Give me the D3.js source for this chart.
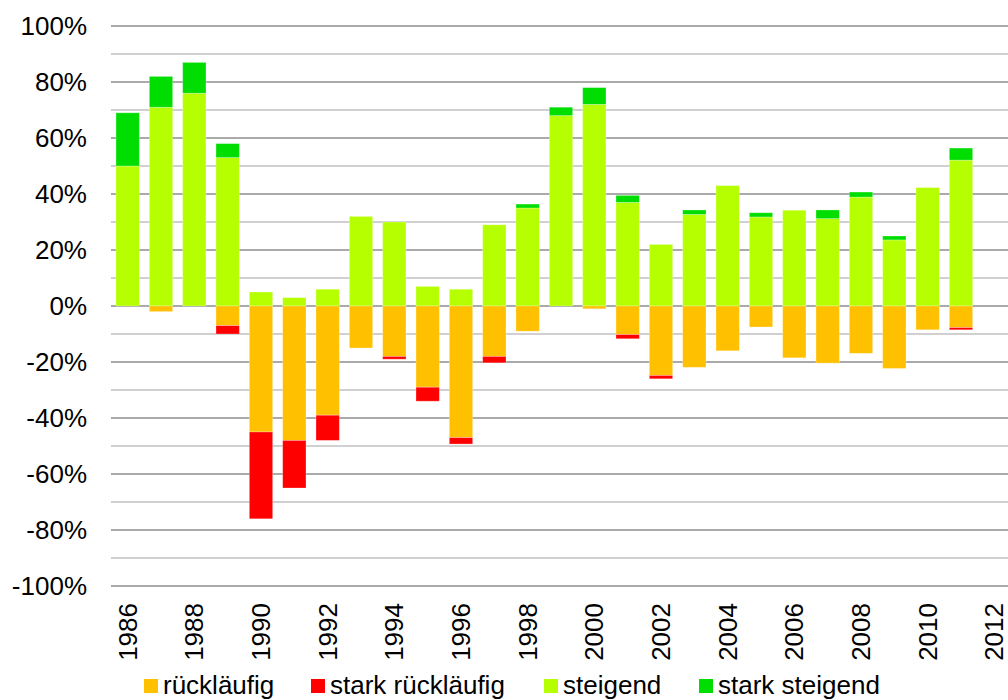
<!DOCTYPE html>
<html><head><meta charset="utf-8">
<script src="https://cdn.jsdelivr.net/npm/d3@7"></script>
<style>body{margin:0;background:#fff}svg{display:block;font-family:"Liberation Sans",Arial,sans-serif}</style>
</head><body><svg id="c" width="1008" height="700"></svg>
<script>
const categories = d3.range(1986, 2013).map(String);
const dataYears = d3.range(1986, 2012).map(String);
const steigend = [50,71,76,53,5,3,6,32,30,7,6,29,35,68,72,37,22,32.7,43,31.8,34.2,31.2,38.9,23.6,42.3,52.1];
const starkSteigend = [19,11,11,5,0,0,0,0,0,0,0,0,1.4,3,6,2.5,0,1.6,0,1.5,0,3.1,1.8,1.4,0,4.3];
const ruecklaeufig = [0,-2,0,-7,-45,-48,-39,-15,-18,-29,-47,-18,-9,0,-1,-10.2,-24.8,-21.9,-16,-7.5,-18.5,-20.4,-16.9,-22.3,-8.5,-7.7];
const starkRuecklaeufig = [0,0,0,-3,-31,-17,-9,0,-1,-5,-2.3,-2.3,0,0,0,-1.5,-1.2,0,0,0,0,0,0,0,0,-0.8];
const yTicks = d3.range(-100, 101, 20);
const xTickLabels = d3.range(1986, 2013, 2).map(String);
const seriesNames = ["rückläufig","stark rückläufig","steigend","stark steigend"];
const colors = ["#FFC000","#FF0000","#B5FF00","#00DD00"];

const svg = d3.select("#c");
const x = d3.scaleBand().domain(categories).range([111, 1011]).paddingInner(0.3).paddingOuter(0.15);
const y = d3.scaleLinear().domain([-100, 100]).range([586, 26]);

// gridlines
const grid = svg.append("g");
d3.range(-100, 101, 10).forEach(v => {
  grid.append("line").attr("x1", 111).attr("x2", 1011).attr("y1", y(v)).attr("y2", y(v))
    .attr("stroke", v % 20 === 0 ? "#8e8e8e" : "#c0c0c0").attr("stroke-width", 1.6);
});

// stacked segments
const segs = [];
dataYears.forEach((yr, i) => {
  segs.push({yr, y0: 0, y1: steigend[i], c: colors[2]});
  segs.push({yr, y0: steigend[i], y1: steigend[i] + starkSteigend[i], c: colors[3]});
  segs.push({yr, y0: 0, y1: ruecklaeufig[i], c: colors[0]});
  segs.push({yr, y0: ruecklaeufig[i], y1: ruecklaeufig[i] + starkRuecklaeufig[i], c: colors[1]});
});
svg.append("g").selectAll("rect").data(segs.filter(d => d.y1 !== d.y0)).join("rect")
  .attr("x", d => x(d.yr)).attr("width", x.bandwidth())
  .attr("y", d => y(Math.max(d.y0, d.y1)))
  .attr("height", d => Math.abs(y(d.y0) - y(d.y1)))
  .attr("fill", d => d.c)
  .attr("stroke", "rgba(255,255,255,0.35)").attr("stroke-width", 0.8);

const FS = 26;
// y axis
const ya = svg.append("g").attr("transform", "translate(87,0)")
  .call(d3.axisLeft(y).tickValues(yTicks).tickSize(0).tickPadding(0).tickFormat(d => d + "%"));
ya.select(".domain").remove();
ya.selectAll("text").attr("font-size", FS).attr("fill", "#000").attr("font-family", "Liberation Sans, Arial, sans-serif");

// x axis
const xa = svg.append("g").attr("transform", "translate(0,586)")
  .call(d3.axisBottom(x).tickValues(xTickLabels).tickSize(0));
xa.select(".domain").remove();
xa.selectAll("text").attr("font-size", FS).attr("fill", "#000").attr("font-family", "Liberation Sans, Arial, sans-serif")
  .attr("transform", "rotate(-90)").attr("text-anchor", "end")
  .attr("x", -17).attr("y", 0).attr("dy", "0.35em");

// legend
const legX = [144, 311, 544, 699];
const leg = svg.append("g");
seriesNames.forEach((n, i) => {
  leg.append("rect").attr("x", legX[i]).attr("y", 679).attr("width", 14).attr("height", 14).attr("fill", colors[i]);
  leg.append("text").attr("x", legX[i] + 19).attr("y", 694).attr("font-size", FS).attr("fill", "#000").text(n);
});
</script></body></html>
